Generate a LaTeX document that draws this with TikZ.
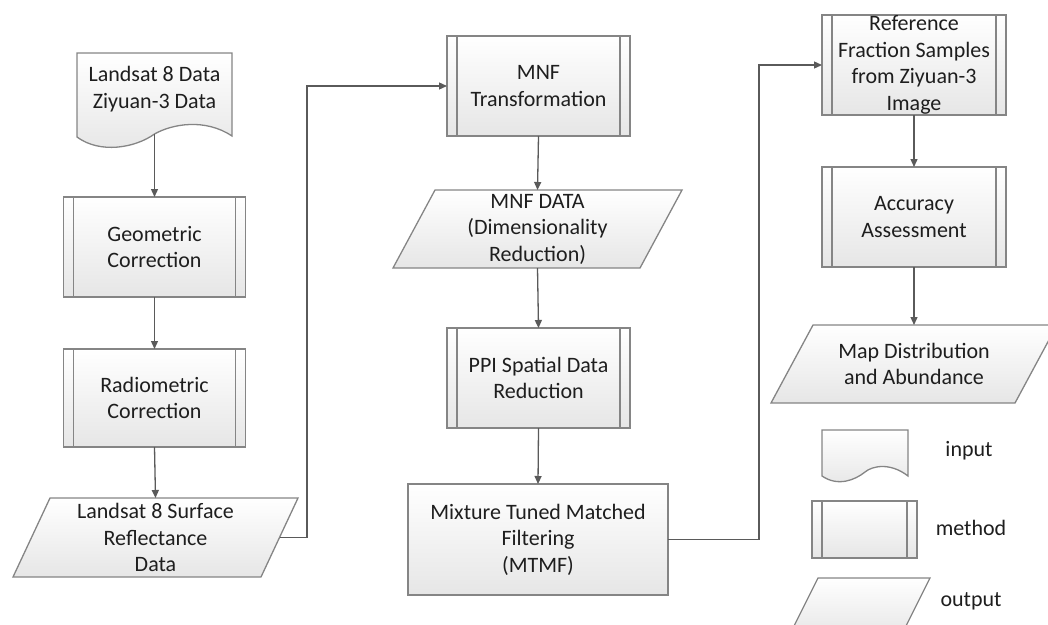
\documentclass[tikz,border=0pt]{standalone}
\usepackage{fontspec}
\setmainfont{Carlito}
\usetikzlibrary{arrows.meta,backgrounds}
\definecolor{edgec}{HTML}{858585}
\definecolor{linec}{HTML}{5A5A5A}
\definecolor{fillb}{HTML}{E6E6E6}
\definecolor{txt}{HTML}{1E1E1E}
\tikzset{
  every node/.style={font=\fontsize{22}{26.5}\selectfont, text=txt, align=center, outer sep=0pt, inner sep=0pt},
  shp/.style={draw=edgec, line width=1.3pt, top color=white, bottom color=fillb},
  methodbox/.style={shp, rectangle, minimum width=183pt, minimum height=100pt},
  plainbox/.style={shp, rectangle},
  slot/.style={rectangle, minimum height=78pt},
  conn/.style={draw=linec, line width=1.3pt, -{Triangle[length=8pt,width=7pt]}},
  innerline/.style={draw=edgec, line width=1.1pt},
}
\newcommand\mlines[1]{%
  \draw[innerline] ([xshift=10pt]#1.north west) -- ([xshift=10pt]#1.south west);
  \draw[innerline] ([xshift=-10pt]#1.north east) -- ([xshift=-10pt]#1.south east);}
\newcommand\paragram[2]{%
  \path[shp] ([xshift=#2]#1.north west) -- ([xshift=#2]#1.north east) -- ([xshift=-#2]#1.south east) -- ([xshift=-#2]#1.south west) -- cycle;}
\begin{document}
\begin{tikzpicture}[x=1pt,y=-1pt]
\useasboundingbox (0,0) rectangle (1048,624);

% left column
\node (doc) at (154.5,89) {Landsat 8 Data\\Ziyuan-3 Data};
\coordinate (docb) at (154.5,134);
\node[methodbox, minimum width=182pt] (geo) at (154.5,247) {Geometric\\Correction};
\node[methodbox, minimum width=182pt, minimum height=98pt] (rad) at (154.5,398) {Radiometric\\Correction};
\node[slot, minimum width=248pt, minimum height=79pt] (lss) at (155.5,537.5) {Landsat 8 Surface\\Reflectance\\Data};
\coordinate (k1) at (307,537.5);

% middle column
\node[methodbox] (mnf) at (538.5,86) {MNF\\Transformation};
\node[slot, minimum width=247pt] (mnfd) at (537.5,229) {MNF DATA\\(Dimensionality\\Reduction)};
\node[methodbox] (ppi) at (538.5,378) {PPI Spatial Data\\Reduction};
\node[plainbox, minimum width=260pt, minimum height=111pt] (mtmf) at (538,539.5) {Mixture Tuned Matched\\Filtering\\(MTMF)};
\coordinate (k2) at (759,539.5);

% right column
\node[methodbox, minimum width=184pt] (ref) at (914,65) {Reference\\Fraction Samples\\from Ziyuan-3\\Image};
\node[methodbox, minimum width=184pt] (acc) at (914,217) {Accuracy\\Assessment};
\node[slot, minimum width=244pt] (map) at (914,364) {Map Distribution\\and Abundance};

% legend
\node (lgin) at (865,450) {};
\node (tin) at (969,451) {input};
\node[shp, rectangle, minimum width=105pt, minimum height=57pt] (lgm) at (864.5,529.5) {};
\node (tm) at (971,528) {method};
\node[slot, minimum width=112pt, minimum height=60pt] (lgout) at (859,608) {};
\node (tout) at (971,601) {output};

\mlines{geo}\mlines{rad}\mlines{mnf}\mlines{ppi}\mlines{ref}\mlines{acc}\mlines{lgm}

\begin{pgfonlayer}{background}
  \path[shp] (77,53) -- (232,53) -- (232,136)
     .. controls (205,118) and (172,124) .. (154.5,134)
     .. controls (135,148) and (100,154) .. (77,137) -- cycle;
  \path[shp] (822,430) -- (908,430) -- (908,476)
     .. controls (890,462) and (872,466) .. (865,472)
     .. controls (855,480) and (838,487) .. (822,476) -- cycle;
  \paragram{lss}{18.5pt}
  \paragram{mnfd}{21pt}
  \paragram{map}{21pt}
  \paragram{lgout}{15pt}
\end{pgfonlayer}

% connectors
\draw[conn] (docb) -- (geo.north);
\draw[conn] (geo.south) -- (rad.north);
\draw[conn] (rad.south) -- (lss.north);
\draw[conn] (lss.east) -- (k1) |- (mnf.west);
\draw[conn] (mnf.south) -- (mnfd.north);
\draw[conn] (mnfd.south) -- (ppi.north);
\draw[conn] (ppi.south) -- (mtmf.north);
\draw[conn] (mtmf.east) -- (k2) |- (ref.west);
\draw[conn] (ref.south) -- (acc.north);
\draw[conn] (acc.south) -- (map.north);
\end{tikzpicture}
\end{document}
